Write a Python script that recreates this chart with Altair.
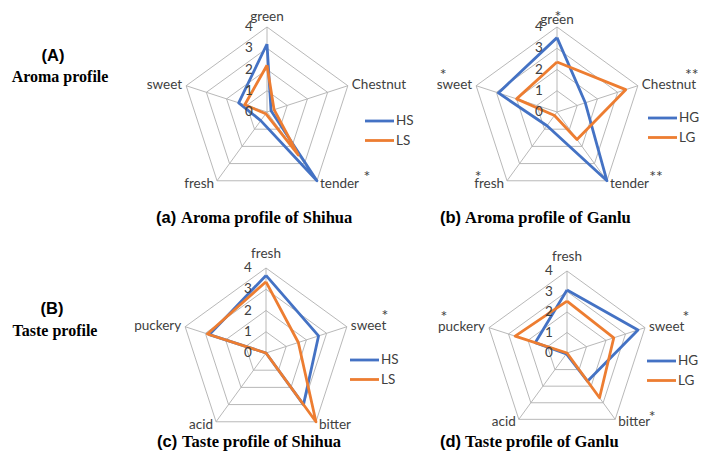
import math
import altair as alt
import pandas as pd

# ---------------- data ----------------
aroma_axes = ["green", "Chestnut", "tender", "fresh", "sweet"]
taste_axes = ["fresh", "sweet", "bitter", "acid", "puckery"]

shihua_aroma_HS = [3.2, 0.2, 4.0, 0.5, 1.4]
shihua_aroma_LS = [2.2, 0.35, 2.5, 0.1, 1.1]
ganlu_aroma_HG = [3.5, 1.4, 4.0, 0.8, 2.9]
ganlu_aroma_LG = [2.35, 3.4, 1.6, 0.2, 2.0]
shihua_taste_HS = [3.65, 2.6, 3.0, 0.0, 2.8]
shihua_taste_LS = [3.35, 1.6, 4.0, 0.0, 2.9]
ganlu_taste_HG = [3.07, 3.64, 1.7, 0.05, 1.63]
ganlu_taste_LG = [2.53, 2.4, 2.7, 0.0, 2.66]

tick_values = [0, 1, 2, 3, 4]
max_value = 4

series_names = ["HS", "LS", "HG", "LG"]
series_colors = ["#4472C4", "#ED7D31", "#4472C4", "#ED7D31"]

panel_prefixes = ["(a)", "(b)", "(c)", "(d)"]
panel_titles = ["Aroma profile of Shihua", "Aroma profile of Ganlu",
                "Taste profile of Shihua", "Taste profile of Ganlu"]
row_tags = ["(A)", "(B)"]
row_names = ["Aroma profile", "Taste profile"]

# significance marks: (panel, axis, mark)
sig_panel = ["a", "b", "b", "b", "b", "b", "c", "d", "d", "d"]
sig_axis = ["tender", "green", "Chestnut", "sweet", "fresh", "tender", "sweet", "puckery", "sweet", "bitter"]
sig_mark = ["*", "*", "**", "*", "*", "**", "*", "*", "*", "*"]

# ---------------- layout (image pixels) ----------------
panels = {
    "a": dict(cx=267, cy=112, r=85, axes=aroma_axes,
              series=[("HS", shihua_aroma_HS), ("LS", shihua_aroma_LS)],
              legend=(365, 121), title=(156, 218), top=10),
    "b": dict(cx=557, cy=112, r=85, axes=aroma_axes,
              series=[("HG", ganlu_aroma_HG), ("LG", ganlu_aroma_LG)],
              legend=(648, 118), title=(440, 218), top=7),
    "c": dict(cx=266, cy=353, r=85, axes=taste_axes,
              series=[("HS", shihua_taste_HS), ("LS", shihua_taste_LS)],
              legend=(350, 360), title=(157, 442), top=14),
    "d": dict(cx=567, cy=353, r=82, axes=taste_axes,
              series=[("HG", ganlu_taste_HG), ("LG", ganlu_taste_LG)],
              legend=(647, 361), title=(440, 442), top=14),
}
# star offsets relative to the axis label anchor (top) or vertex (others)
star_offsets = {0: (1, -3), 1: (54, -11), 2: (49, -4), 3: (-29, -4), 4: (-33, -11)}
star_fix = {("a", "tender"): (50, -4), ("c", "sweet"): (38, -11), ("d", "puckery"): (-45, -11),
            ("d", "sweet"): (41, -11), ("d", "bitter"): (37, -2)}

def pt(p, i, v):
    ang = math.radians(72 * i)
    rr = p["r"] * v / max_value
    return p["cx"] + rr * math.sin(ang), p["cy"] - rr * math.cos(ang)

grid_rows, spoke_rows, line_rows, tick_rows = [], [], [], []
lab_rows, star_rows, leg_line_rows, leg_text_rows = [], [], [], []
title_rows = []

for pi, (k, p) in enumerate(panels.items()):
    n = len(p["axes"])
    for lvl in tick_values[1:]:
        for j in range(n + 1):
            x, y = pt(p, j % n, lvl)
            grid_rows.append(dict(x=x, y=y, g=f"{k}{lvl}", o=j))
    for j in range(n):
        x2, y2 = pt(p, j, max_value)
        spoke_rows.append(dict(x=p["cx"], y=p["cy"], x2=x2, y2=y2))
    for lvl in tick_values:
        tick_rows.append(dict(x=p["cx"] - 18, y=p["cy"] - p["r"] * lvl / max_value, t=str(lvl)))
    for sname, vals in p["series"]:
        for j in range(n + 1):
            x, y = pt(p, j % n, vals[j % n])
            line_rows.append(dict(x=x, y=y, s=sname, g=f"{k}{sname}", o=j))
    for j, name in enumerate(p["axes"]):
        vx, vy = pt(p, j, max_value)
        if j == 0:
            lab_rows.append(dict(x=vx, y=vy - p["top"], t=name, al="center"))
        elif j == 1:
            lab_rows.append(dict(x=vx + 4, y=vy - 1, t=name, al="left"))
        elif j == 2:
            lab_rows.append(dict(x=vx + 3, y=vy + 3, t=name, al="left"))
        elif j == 3:
            lab_rows.append(dict(x=vx - 3, y=vy + 3, t=name, al="right"))
        else:
            lab_rows.append(dict(x=vx - 4, y=vy - 1, t=name, al="right"))
    lx, ly = p["legend"]
    for si, (sname, _) in enumerate(p["series"]):
        yy = ly + 19.5 * si
        leg_line_rows.append(dict(x=lx, x2=lx + 29, y=yy, s=sname))
        leg_text_rows.append(dict(x=lx + 31, y=yy, t=sname))
    tx, ty = p["title"]
    title_rows.append(dict(x=tx, y=ty, pre=panel_prefixes[pi], t=panel_titles[pi]))

for pk, ax, mk in zip(sig_panel, sig_axis, sig_mark):
    p = panels[pk]
    j = p["axes"].index(ax)
    vx, vy = pt(p, j, max_value)
    if j == 0:
        vy = vy - p["top"]
    dx, dy = star_fix.get((pk, ax), star_offsets[j])
    star_rows.append(dict(x=vx + dx, y=vy + dy, t=mk))

row_rows = [dict(x=53, y=56, tag=row_tags[0], name=row_names[0], xn=60, y2=77),
            dict(x=52, y=309, tag=row_tags[1], name=row_names[1], xn=55, y2=331)]

xs = alt.Scale(domain=[8, 701], range=[0, 693])
ys = alt.Scale(domain=[8, 454], range=[0, 446])
X = alt.X("x:Q", scale=xs, axis=None)
Y = alt.Y("y:Q", scale=ys, axis=None)

grid = alt.Chart(pd.DataFrame(grid_rows)).mark_line(color="#b0b0b0", strokeWidth=0.9).encode(
    x=X, y=Y, detail="g:N", order="o:Q")
spokes = alt.Chart(pd.DataFrame(spoke_rows)).mark_rule(color="#b0b0b0", strokeWidth=0.9).encode(
    x=X, y=Y, x2="x2:Q", y2="y2:Q")
color = alt.Color("s:N", scale=alt.Scale(domain=series_names, range=series_colors), legend=None)
lines = alt.Chart(pd.DataFrame(line_rows)).mark_line(strokeWidth=2.8, strokeJoin="round").encode(
    x=X, y=Y, color=color, detail="g:N", order="o:Q")
ticks = alt.Chart(pd.DataFrame(tick_rows)).mark_text(
    font="Lato", fontSize=13.5, color="#404040", align="center", baseline="middle").encode(x=X, y=Y, text="t:N")

lab_df = pd.DataFrame(lab_rows)
labs = []
for al in ["left", "center", "right"]:
    labs.append(alt.Chart(lab_df[lab_df.al == al]).mark_text(
        font="Lato", fontSize=13.5, color="#404040", align=al, baseline="middle").encode(x=X, y=Y, text="t:N"))

stars = alt.Chart(pd.DataFrame(star_rows)).mark_text(
    font="Lato", fontSize=16, color="#404040", align="center", baseline="middle").encode(x=X, y=Y, text="t:N")

leg_lines = alt.Chart(pd.DataFrame(leg_line_rows)).mark_rule(strokeWidth=2.8).encode(
    x=X, x2="x2:Q", y=Y, color=color)
leg_text = alt.Chart(pd.DataFrame(leg_text_rows)).mark_text(
    font="Lato", fontSize=13.5, color="#404040", align="left", baseline="middle").encode(x=X, y=Y, text="t:N")

tdf = pd.DataFrame(title_rows)
tdf["x2"] = tdf["x"] + 25
t_pre = alt.Chart(tdf).mark_text(font="Liberation Sans", fontWeight="bold", fontSize=16.5,
                                 color="black", align="left", baseline="middle").encode(x=X, y=Y, text="pre:N")
t_main = alt.Chart(tdf).mark_text(font="Liberation Serif", fontWeight="bold", fontSize=16.5,
                                  color="black", align="left", baseline="middle").encode(
    x=alt.X("x2:Q", scale=xs, axis=None), y=Y, text="t:N")

rdf = pd.DataFrame(row_rows)
r_tag = alt.Chart(rdf).mark_text(font="Liberation Sans", fontWeight="bold", fontSize=16.5,
                                 color="black", align="center", baseline="middle").encode(x=X, y=Y, text="tag:N")
r_name = alt.Chart(rdf).mark_text(font="Liberation Serif", fontWeight="bold", fontSize=16,
                                  color="black", align="center", baseline="middle").encode(
    x=alt.X("xn:Q", scale=xs, axis=None), y=alt.Y("y2:Q", scale=ys, axis=None), text="name:N")

chart = alt.layer(grid, spokes, lines, ticks, *labs, stars, leg_lines, leg_text,
                  t_pre, t_main, r_tag, r_name).properties(
    width=693, height=446, padding=0, autosize=alt.AutoSizeParams(type="none"),
    background="white").configure_view(stroke=None)

chart.save("out.html", embed_options={"renderer": "svg", "actions": False})
